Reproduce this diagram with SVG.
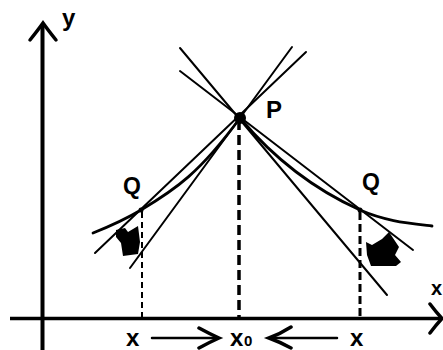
<svg xmlns="http://www.w3.org/2000/svg" width="443" height="350" viewBox="0 0 443 350">
<style>
.ln{stroke:#000;fill:none;stroke-width:2;stroke-linecap:round}
.crv{stroke:#000;fill:none;stroke-width:2.8;stroke-linecap:round}
.ax{stroke:#000;fill:none;stroke-width:4}
.chev{stroke:#000;fill:none;stroke-width:3.5;stroke-linecap:round;stroke-linejoin:miter}
.txt{font-family:"Liberation Sans",Arial,sans-serif;font-weight:bold;fill:#000}
.dash{stroke:#000;fill:none}
</style>
<rect width="443" height="350" fill="#fff"/>
<g id="axes">
  <line class="ax" x1="42.5" y1="25" x2="42.5" y2="350"/>
  <path class="chev" d="M30,40 Q38,30 43,23 Q48,30 56,40"/>
  <line class="ax" x1="10" y1="318.5" x2="440" y2="318.5" style="stroke-width:3.5"/>
  <path class="chev" d="M430,304 Q436,312 442,318.5 Q436,325 430,333"/>
  <text class="txt" x="62" y="26" font-size="24">y</text>
  <text class="txt" x="431" y="295" font-size="20">x</text>
</g>
<g id="connectors">
  <line class="dash" x1="239" y1="120" x2="239" y2="318" stroke-width="3.5" stroke-dasharray="10 5"/>
  <line class="dash" x1="142" y1="212" x2="142" y2="318" stroke-width="2" stroke-dasharray="6 4"/>
  <line class="dash" x1="360" y1="212" x2="360" y2="318" stroke-width="3" stroke-dasharray="8 4"/>
  <line class="ln" x1="180" y1="48" x2="387" y2="295"/>
  <line class="ln" x1="180" y1="71" x2="413" y2="250"/>
  <line class="ln" x1="292" y1="47" x2="130" y2="268"/>
  <line class="ln" x1="306" y1="52" x2="95" y2="253"/>
  <path class="crv" d="M240,118 C280,165.6 320,192 360,210 C385,221 407,223 432,226"/>
  <path class="crv" d="M240,118 C200,172.6 176,189 141,210 C125,219.6 109,226.6 93,233"/>
</g>
<g id="P">
  <circle cx="240" cy="118" r="6" fill="#000"/>
  <text class="txt" x="266" y="118" font-size="24">P</text>
</g>
<g id="Q-left">
  <circle cx="141" cy="210" r="2.5" fill="#000"/>
  <text class="txt" x="123" y="194" font-size="23">Q</text>
  <polygon fill="#000" points="116,230 125,228 128,232 138,226 140,242 138,254 123,256 121,243 116,237"/>
</g>
<g id="Q-right">
  <circle cx="360" cy="210" r="2.5" fill="#000"/>
  <text class="txt" x="362" y="190" font-size="23">Q</text>
  <polygon fill="#000" points="366,242 372,245 382,239 389,232 399,247 395,255 401,262 396,266 371,266 367,255"/>
</g>
<g id="x-labels">
  <text class="txt" x="126" y="346" font-size="24">x</text>
  <text class="txt" x="230" y="346" font-size="24">x</text>
  <text class="txt" x="244" y="346" font-size="15">0</text>
  <text class="txt" x="350" y="346" font-size="24">x</text>
  <line class="ln" x1="152" y1="338" x2="217" y2="338" style="stroke-width:2.5"/>
  <path class="chev" d="M199,328 Q210,334 219,338 Q210,342 199,348"/>
  <line class="ln" x1="337" y1="338" x2="271" y2="338" style="stroke-width:2.5"/>
  <path class="chev" d="M291,327 Q280,334 269,338 Q280,342 291,348"/>
</g>
</svg>
